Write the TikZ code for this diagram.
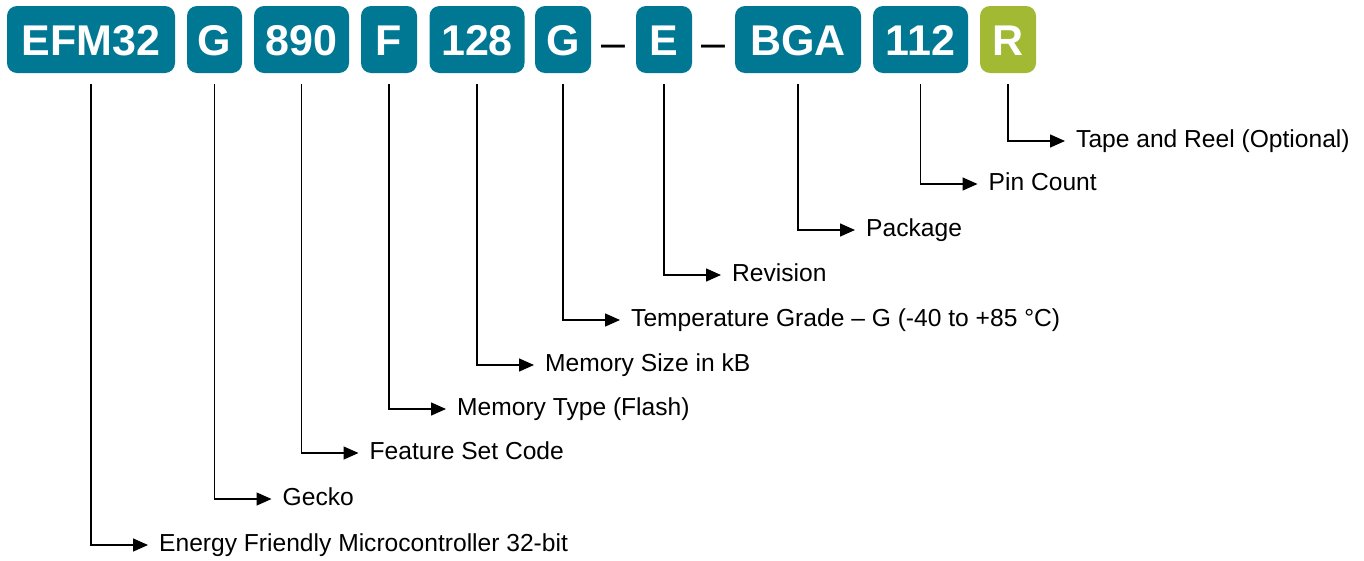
\documentclass[tikz,border=0pt]{standalone}
\usepackage{fontspec}
\setmainfont{Liberation Sans}
\usetikzlibrary{arrows.meta}
\definecolor{teal1}{RGB}{0,120,148}
\definecolor{green1}{RGB}{161,185,51}
\tikzset{
  code/.style={fill=teal1, rounded corners=10pt, text=white, inner sep=0pt,
    minimum height=67pt, text height=31pt, text depth=0pt,
    font=\fontsize{43}{50}\selectfont\bfseries},
  sep/.style={inner sep=0pt, text height=31pt, text depth=0pt, font=\fontsize{43}{50}\selectfont},
  lbl/.style={anchor=base west, inner sep=0pt, font=\fontsize{24.6}{29}\selectfont},
  conn/.style={line width=1.5pt, -{Triangle[length=15pt,width=13pt]}}
}
\begin{document}
\begin{tikzpicture}[x=1pt,y=-1pt]
\useasboundingbox (0,0) rectangle (1364,560);
% code boxes
\node[code, minimum width=168pt] (b1) at (91,39.5) {EFM32};
\node[code, minimum width=55pt] (b2) at (214.5,39.5) {G};
\node[code, minimum width=95pt] (b3) at (301.5,39.5) {890};
\node[code, minimum width=56pt] (b4) at (389,39.5) {F};
\node[code, minimum width=95pt] (b5) at (477,39.5) {128};
\node[code, minimum width=56pt] (b6) at (563,39.5) {G};
\node[sep] (d1) at (613.5,42) {–};
\node[code, minimum width=56pt] (b7) at (664,39.5) {E};
\node[sep] (d2) at (713,42) {–};
\node[code, minimum width=126pt] (b8) at (798,39.5) {BGA};
\node[code, minimum width=95pt] (b9) at (920.5,39.5) {112};
\node[code, fill=green1, minimum width=56pt] (b10) at (1008,39.5) {R};
% corners and labels
\foreach \b/\y/\t in {
  b10/141/{Tape and Reel (Optional)},
  b9/184/{Pin Count},
  b8/230/{Package},
  b7/275/{Revision},
  b6/320/{Temperature Grade – G (-40 to +85 °C)},
  b5/365/{Memory Size in kB},
  b4/409/{Memory Type (Flash)},
  b3/453/{Feature Set Code},
  b2/499/{Gecko},
  b1/545/{Energy Friendly Microcontroller 32-bit}}{
  \coordinate (c\b) at (\b.south |- 0,\y);
  \coordinate (s\b) at ([yshift=-11pt]\b.south);
  \node[lbl] (l\b) at ([xshift=68pt,yshift=-6.5pt]c\b) {\t};
  \draw[conn] (s\b) -- (c\b) -- ([xshift=-11pt,yshift=6.5pt]l\b.base west);
}
\end{tikzpicture}
\end{document}
